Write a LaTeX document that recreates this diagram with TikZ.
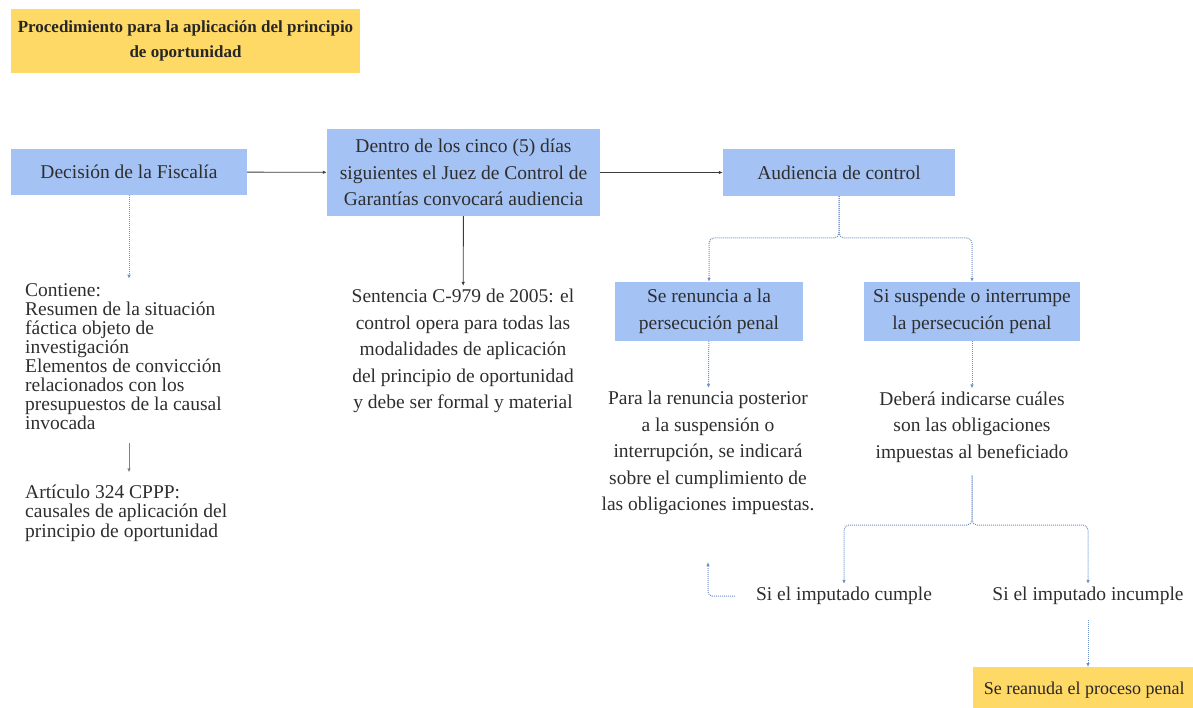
\documentclass[tikz,border=0pt]{standalone}
\usepackage{fontspec}
\setmainfont{Liberation Serif}
\usepackage{tikz}
\usetikzlibrary{positioning, arrows.meta, calc}

\definecolor{cajaazul}{HTML}{A4C2F4}
\definecolor{amarillo}{HTML}{FFD966}
\definecolor{textogris}{HTML}{2E2E2E}
\definecolor{lineagris}{HTML}{3C3C3C}
\definecolor{lineaazul}{HTML}{6F8FC6}

\newcommand{\cuerpo}{\fontsize{19.5}{26.5}\selectfont}
\newcommand{\apretado}{\fontsize{19.5}{19}\selectfont}

\begin{document}
\begin{tikzpicture}[
  x=1pt, y=-1pt,
  bluebox/.style={fill=cajaazul, text=textogris, align=center, inner sep=0pt, font=\cuerpo},
  yellowbox/.style={fill=amarillo, text=black!85, inner sep=0pt},
  plaintext/.style={text=textogris, align=center, inner sep=3pt, font=\cuerpo},
  solidarrow/.style={draw=lineagris, line width=0.9pt, -{Latex[length=4pt,width=3.5pt]}},
  dotarrow/.style={draw=lineaazul, line width=1pt, densely dotted, -{Latex[length=4pt,width=3.5pt]}},
  grayarrow/.style={draw=gray, line width=0.8pt, -{Latex[length=4pt,width=3.5pt]}}
]
\useasboundingbox (0,0) rectangle (1193,708);

% titulo
\node[yellowbox, minimum width=349pt, minimum height=64pt, align=center,
  font=\fontsize{17}{25}\selectfont\bfseries] (titulo) at (185.5,41)
  {Procedimiento para la aplicación del principio\\de oportunidad};

% fila de arriba
\node[bluebox, minimum width=236pt, minimum height=46pt] (fiscalia) at (129,172) {Decisión de la Fiscalía};
\node[bluebox, minimum width=273pt, minimum height=87pt] (dentro) at (463.5,172.5)
  {Dentro de los cinco (5) días\\siguientes el Juez de Control de\\Garantías convocará audiencia};
\node[bluebox, minimum width=232pt, minimum height=47pt] (audiencia) at (839,172.5) {Audiencia de control};

% textos de la izquierda
\node[plaintext, align=left, inner sep=0pt, font=\apretado, anchor=west] (contiene) at (25,357)
  {Contiene:\\Resumen de la situación\\fáctica objeto de\\investigación\\Elementos de convicción\\relacionados con los\\presupuestos de la causal\\invocada};
\node[plaintext, align=left, inner sep=0pt, font=\fontsize{19.5}{19.5}\selectfont, anchor=west] (articulo) at (25,513)
  {Artículo 324 CPPP:\\causales de aplicación del\\principio de oportunidad};
\node[plaintext] (sentencia) at (463,351)
  {Sentencia C-979 de 2005: el\\control opera para todas las\\modalidades de aplicación\\del principio de oportunidad\\y debe ser formal y material};

% ramas de la audiencia
\node[bluebox, minimum width=188pt, minimum height=59pt] (renuncia) at (709,311.5)
  {Se renuncia a la\\persecución penal};
\node[bluebox, minimum width=216pt, minimum height=59pt] (suspende) at (972,311.5)
  {Si suspende o interrumpe\\la persecución penal};
\node[plaintext] (posterior) at (708,453)
  {Para la renuncia posterior\\a la suspensión o\\interrupción, se indicará\\sobre el cumplimiento de\\las obligaciones impuestas.};
\node[plaintext] (debera) at (972,427)
  {Deberá indicarse cuáles\\son las obligaciones\\impuestas al beneficiado};
\node[plaintext] (cumple) at (844,596) {Si el imputado cumple};
\node[plaintext] (incumple) at (1088,596) {Si el imputado incumple};
\node[yellowbox, anchor=north west, minimum width=222pt, minimum height=45pt, inner xsep=6pt,
  font=\fontsize{18}{22}\selectfont] (reanuda) at (973,667)
  {Se reanuda el proceso penal};

\coordinate (forkA) at (839,238);
\coordinate (forkB) at (972,525);

% conectores
\draw[solidarrow] (fiscalia) -- (dentro);
\draw[solidarrow] (dentro) -- (audiencia);
\draw[solidarrow] (dentro) -- (sentencia);
\draw[dotarrow, shorten >=5pt] (fiscalia.south) -- (fiscalia.south |- contiene.north);
\draw[grayarrow, shorten <=13pt, shorten >=12pt] (contiene.south -| fiscalia.south) -- (articulo.north -| fiscalia.south);
\draw[dotarrow, rounded corners=5pt] (audiencia.south) -- (forkA) -| (renuncia.north);
\draw[dotarrow, rounded corners=5pt] (audiencia.south) -- (forkA) -| (suspende.north);
\draw[dotarrow] (renuncia) -- (posterior);
\draw[dotarrow] (suspende) -- (debera);
\draw[dotarrow, rounded corners=5pt, shorten <=10pt] (debera.south) -- (forkB) -| (cumple.north);
\draw[dotarrow, rounded corners=5pt, shorten <=10pt] (debera.south) -- (forkB) -| (incumple.north);
\draw[dotarrow, shorten <=12pt] (incumple.south) -- (incumple.south |- reanuda.north);
\draw[dotarrow, rounded corners=4pt, shorten <=18pt, shorten >=44pt] (cumple.west) -| (posterior.south);

\end{tikzpicture}
\end{document}
